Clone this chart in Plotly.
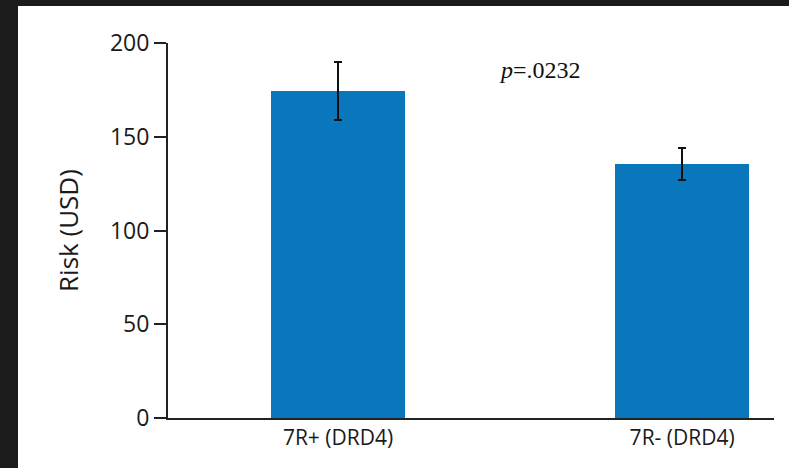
import plotly.graph_objects as go

categories = ["7R+ (DRD4)", "7R- (DRD4)"]
risk_values = [174.5, 135.5]
risk_errors = [15.5, 8.5]
y_ticks = [0, 50, 100, 150, 200]
p_label = "<i>p</i>=.0232"

fig = go.Figure()
fig.add_trace(go.Bar(
    x=[0, 1], y=risk_values, width=0.39,
    marker=dict(color="#0a76bc", line=dict(width=0)),
    error_y=dict(type="data", array=risk_errors, visible=True,
                 color="#111111", thickness=2, width=4),
))

L, R, T, B = 168, 15, 43, 50
W, H = 789, 468
pw, ph = W - L - R, H - T - B

fig.add_shape(type="rect", xref="paper", yref="paper", layer="below",
              x0=(18 - L) / pw, x1=(W - L) / pw,
              y0=-B / ph, y1=1 + (T - 6) / ph,
              fillcolor="white", line=dict(width=0))

fig.add_annotation(x=0.587, y=185.5, xref="x", yref="y", text=p_label, showarrow=False,
                   font=dict(family="Liberation Serif", size=24, color="#111111"))

fig.update_layout(
    width=W, height=H,
    margin=dict(l=L, r=R, t=T, b=B),
    paper_bgcolor="#1b1b1b", plot_bgcolor="white",
    showlegend=False, bargap=0,
    font=dict(family="Open Sans", size=18, color="#1a1a1a"),
    xaxis=dict(range=[-0.494, 1.267], tickvals=[0, 1], ticktext=categories,
               showline=True, linecolor="#222222", linewidth=2, ticks="",
               showgrid=False, zeroline=False, tickfont=dict(size=21, color="#1a1a1a")),
    yaxis=dict(range=[0, 200], tickvals=y_ticks, showline=True, linecolor="#222222",
               linewidth=2, ticks="outside", ticklen=12, tickwidth=2, tickcolor="#222222",
               showgrid=False, zeroline=False, tickfont=dict(size=23, color="#1a1a1a"),
               title=dict(text="Risk (USD)", font=dict(size=26, color="#1a1a1a"), standoff=24)),
)

fig.write_html("out.html", config={"displayModeBar": False},
               post_script="document.body.style.margin='0';document.body.style.background='#1b1b1b';")
